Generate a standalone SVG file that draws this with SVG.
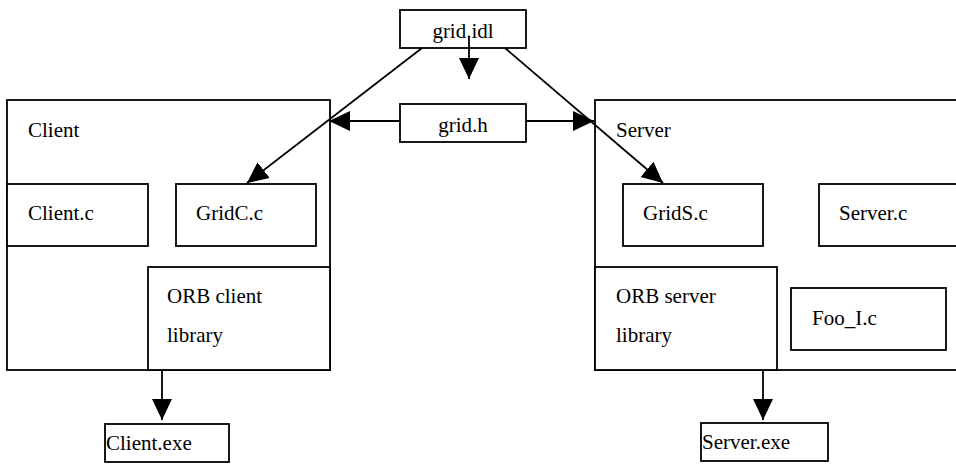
<svg xmlns="http://www.w3.org/2000/svg" width="956" height="464" viewBox="0 0 956 464">
<style>
.box{fill:#fff;stroke:#000;stroke-width:1.8}
.t{font-family:'Liberation Serif','DejaVu Serif',serif;font-size:21px;fill:#000}
.c{stroke:#000;stroke-width:1.8;fill:none}
</style>
<defs>
<marker id="ah" markerUnits="userSpaceOnUse" markerWidth="22" markerHeight="22" refX="21" refY="10" orient="auto" viewBox="0 0 22 20">
<path d="M0,0 L21,10 L0,20 z" fill="#000"/>
</marker>
</defs>
<rect width="956" height="464" fill="#fff"/>
<g font-family="Liberation Serif, DejaVu Serif, serif">
<g id="client">
<rect class="box" x="7" y="100" width="323" height="270"/>
<text class="t" x="28" y="137">Client</text>
</g>
<g id="client-c">
<rect class="box" x="7" y="184" width="141" height="62"/>
<text class="t" x="28" y="220">Client.c</text>
</g>
<g id="gridc-c">
<rect class="box" x="176" y="184" width="140" height="62"/>
<text class="t" x="196" y="220">GridC.c</text>
</g>
<g id="orb-client">
<rect class="box" x="148" y="267" width="182" height="103"/>
<text class="t" x="167" y="303">ORB client</text>
<text class="t" x="167" y="342">library</text>
</g>
<g id="client-exe">
<rect class="box" x="105" y="424" width="124" height="38"/>
<text class="t" x="106" y="450">Client.exe</text>
</g>
<g id="server">
<rect class="box" x="595" y="100" width="370" height="270"/>
<text class="t" x="616" y="137">Server</text>
</g>
<g id="grids-c">
<rect class="box" x="623" y="184" width="140" height="62"/>
<text class="t" x="643" y="220">GridS.c</text>
</g>
<g id="server-c">
<rect class="box" x="819" y="184" width="146" height="62"/>
<text class="t" x="839" y="220">Server.c</text>
</g>
<g id="orb-server">
<rect class="box" x="595" y="267" width="182" height="103"/>
<text class="t" x="616" y="303">ORB server</text>
<text class="t" x="616" y="342">library</text>
</g>
<g id="foo-i-c">
<rect class="box" x="791" y="288" width="155" height="62"/>
<text class="t" x="812" y="325">Foo_I.c</text>
</g>
<g id="server-exe">
<rect class="box" x="701" y="423" width="127" height="38"/>
<text class="t" x="702" y="449">Server.exe</text>
</g>
<g id="grid-idl">
<rect class="box" x="400" y="10" width="126" height="38"/>
<text class="t" x="463" y="38" text-anchor="middle">grid.idl</text>
</g>
<g id="grid-h">
<rect class="box" x="400" y="104" width="126" height="38"/>
<text class="t" x="463" y="132" text-anchor="middle">grid.h</text>
</g>
</g>
<g id="connectors">
<line class="c" x1="469" y1="38" x2="469" y2="79" marker-end="url(#ah)"/>
<line class="c" x1="400" y1="121" x2="329" y2="121" marker-end="url(#ah)"/>
<line class="c" x1="526" y1="121" x2="594" y2="121" marker-end="url(#ah)"/>
<line class="c" x1="422" y1="48" x2="247" y2="183" marker-end="url(#ah)"/>
<line class="c" x1="505" y1="48" x2="663" y2="183" marker-end="url(#ah)"/>
<line class="c" x1="162" y1="370" x2="162" y2="420" marker-end="url(#ah)"/>
<line class="c" x1="763" y1="370" x2="763" y2="420" marker-end="url(#ah)"/>
</g>
</svg>
